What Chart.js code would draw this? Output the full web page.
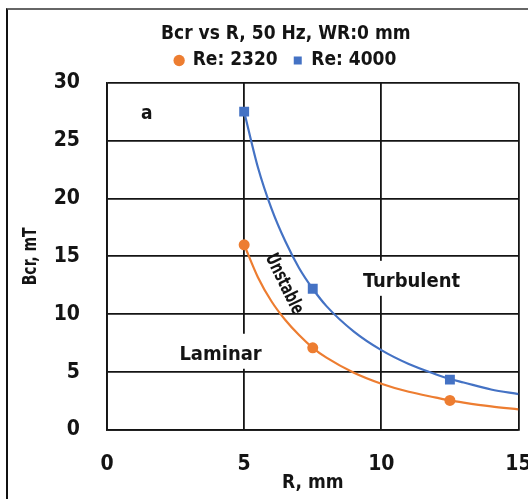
<!DOCTYPE html>
<html>
<head>
<meta charset="utf-8">
<script src="https://cdn.jsdelivr.net/npm/chart.js@4"></script>
<style>
html,body{margin:0;padding:0;background:#fff;}
#wrap{position:relative;width:528px;height:499px;overflow:hidden;}
#frame{position:absolute;left:6px;top:8px;width:600px;height:600px;border-top:2px solid #666;border-left:2px solid #111;pointer-events:none;}
canvas{position:absolute;left:0;top:0;}
</style>
</head>
<body>
<div id="wrap"><canvas id="c" width="528" height="499"></canvas><div id="frame"></div></div>
<script>
// Measured points
const radiusMm = [5, 7.5, 12.5];
const bcrRe2320 = [16.0, 7.1, 2.55];
const bcrRe4000 = [27.5, 12.2, 4.35];
// Trend curves
const curveR = [5, 5.5, 6, 6.5, 7, 7.5, 8, 9, 10, 11, 12, 12.5, 13, 14, 15];
const curve2320 = [16.0, 13.2, 11.1, 9.5, 8.2, 7.1, 6.25, 4.95, 4.0, 3.3, 2.8, 2.56, 2.37, 2.04, 1.78];
const curve4000 = [27.5, 22.7, 19.1, 16.3, 14.0, 12.2, 10.7, 8.5, 6.9, 5.7, 4.8, 4.4, 4.1, 3.5, 3.1];
const xTicks = [0, 5, 10, 15];
const yTicks = [0, 5, 10, 15, 20, 25, 30];
const seriesNames = ['Re: 2320', 'Re: 4000'];
const titleText = 'Bcr vs R, 50 Hz, WR:0 mm';
const xTitle = 'R, mm';
const yTitle = 'Bcr, mT';
const notes = [
  {text: 'a', x: 1.45, y: 27.3, rot: 0, bg: false, size: 19, sx: 1},
  {text: 'Turbulent', x: 11.1, y: 12.8, rot: 0, bg: true, size: 20, sx: 1},
  {text: 'Laminar', x: 4.14, y: 6.5, rot: 0, bg: true, size: 20, sx: 1},
  {text: 'Unstable', x: 6.45, y: 12.6, rot: 64, bg: false, size: 19, sx: 0.76}
];

const FONT = "'DejaVu Sans Condensed', 'DejaVu Sans', sans-serif";
const ORANGE = '#ED7D31';
const BLUE = '#4472C4';
const INK = '#141414';

const pts = (xs, ys) => xs.map((x, i) => ({x: x, y: ys[i]}));

const notesPlugin = {
  id: 'notes',
  beforeDatasetsDraw(chart) {
    const ctx = chart.ctx, xs = chart.scales.x, ys = chart.scales.y;
    ctx.save();
    ctx.textAlign = 'center';
    ctx.textBaseline = 'middle';
    notes.forEach(n => {
      const px = xs.getPixelForValue(n.x), py = ys.getPixelForValue(n.y);
      ctx.save();
      ctx.font = 'bold ' + n.size + 'px ' + FONT;
      ctx.translate(px, py);
      ctx.rotate(n.rot * Math.PI / 180);
      ctx.scale(n.sx, 1);
      if (n.bg) {
        const w = ctx.measureText(n.text).width;
        ctx.fillStyle = '#fff';
        ctx.fillRect(-w / 2 - 4, -21, w + 8, 35);
      }
      ctx.fillStyle = INK;
      ctx.fillText(n.text, 0, 0);
      ctx.restore();
    });
    ctx.restore();
  },
  afterDraw(chart) {
    const ctx = chart.ctx, ca = chart.chartArea;
    ctx.save();
    ctx.fillStyle = INK;
    ctx.font = 'bold 19px ' + FONT;
    ctx.textAlign = 'center';
    ctx.textBaseline = 'middle';
    ctx.fillText(xTitle, (ca.left + ca.right) / 2, 483);
    ctx.translate(31, (ca.top + ca.bottom) / 2);
    ctx.rotate(-Math.PI / 2);
    ctx.scale(0.82, 1);
    ctx.fillText(yTitle, 0, 0);
    ctx.restore();
  }
};

new Chart(document.getElementById('c'), {
  type: 'scatter',
  data: {
    datasets: [
      {label: seriesNames[0], data: pts(radiusMm, bcrRe2320), showLine: false,
       pointStyle: 'circle', pointRadius: 5.5, pointHoverRadius: 5.5,
       backgroundColor: ORANGE, borderColor: ORANGE, borderWidth: 0, order: 1},
      {label: seriesNames[1], data: pts(radiusMm, bcrRe4000), showLine: false,
       pointStyle: 'rect', pointRadius: 7, pointHoverRadius: 7,
       backgroundColor: BLUE, borderColor: BLUE, borderWidth: 0, order: 1},
      {label: 'fit2320', type: 'line', data: pts(curveR, curve2320), showLine: true,
       pointRadius: 0, borderColor: ORANGE, borderWidth: 2.2, tension: 0.4,
       cubicInterpolationMode: 'monotone', fill: false, order: 2},
      {label: 'fit4000', type: 'line', data: pts(curveR, curve4000), showLine: true,
       pointRadius: 0, borderColor: BLUE, borderWidth: 2.2, tension: 0.4,
       cubicInterpolationMode: 'monotone', fill: false, order: 2}
    ]
  },
  options: {
    responsive: false,
    animation: false,
    events: [],
    layout: {padding: {left: 53, right: 9.5, top: 0, bottom: 0}},
    plugins: {
      title: {display: true, text: titleText, color: INK,
        font: {family: FONT, size: 19, weight: 'bold'}, padding: {top: 22.6, bottom: -10.4}},
      subtitle: {display: true, text: '', weight: 500,
        font: {family: FONT, size: 1}, padding: {top: 0, bottom: 1.5}},
      legend: {display: true,
        labels: {usePointStyle: true, boxWidth: 8, boxHeight: 8, color: INK,
          font: {family: FONT, size: 19, weight: 'bold'}, padding: 16,
          filter: item => item.datasetIndex < 2}},
      tooltip: {enabled: false}
    },
    scales: {
      x: {type: 'linear', min: 0, max: 15,
        afterBuildTicks: s => { s.ticks = xTicks.map(v => ({value: v})); },
        afterFit: s => { s.height = 69; s.paddingRight = 0; s.paddingLeft = 0; },
        grid: {color: INK, lineWidth: 1.8, drawTicks: false},
        border: {color: INK, width: 1.8},
        ticks: {color: INK, padding: 22, font: {family: FONT, size: 21, weight: 'bold'}}},
      y: {type: 'linear', min: 0, max: 30,
        afterBuildTicks: s => { s.ticks = yTicks.map(v => ({value: v})); },
        afterFit: s => { s.width = 54; },
        grid: {color: INK, lineWidth: 1.8, drawTicks: false},
        border: {color: INK, width: 1.8},
        ticks: {color: INK, padding: 27, font: {family: FONT, size: 21, weight: 'bold'}}}
    }
  },
  plugins: [notesPlugin]
});
</script>
</body>
</html>
